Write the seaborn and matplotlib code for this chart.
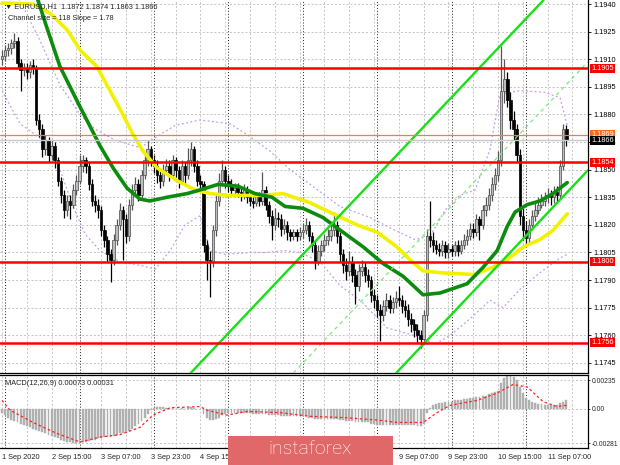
import numpy as np
import pandas as pd
import matplotlib
matplotlib.use("Agg")
import matplotlib.pyplot as plt
import seaborn as sns
from matplotlib.patches import Rectangle
from matplotlib.transforms import blended_transform_factory

# ---------------- data (EURUSD H1) ----------------
opens = [1.1910, 1.1912, 1.1915, 1.1916, 1.1919, 1.1920, 1.1908, 1.1904, 1.1905, 1.1903,
         1.1907, 1.1905, 1.1877, 1.1872, 1.1861, 1.1866, 1.1858, 1.1863, 1.1855, 1.1844,
         1.1836, 1.1828, 1.1833, 1.1831, 1.1839, 1.1844, 1.1852, 1.1855, 1.1852, 1.1842,
         1.1833, 1.1831, 1.1828, 1.1817, 1.1812, 1.1804, 1.1801, 1.1812, 1.1820, 1.1828,
         1.1823, 1.1814, 1.1831, 1.1839, 1.1842, 1.1836, 1.1847, 1.1855, 1.1861, 1.1855,
         1.1852, 1.1847, 1.1844, 1.1850, 1.1852, 1.1847, 1.1855, 1.1850, 1.1844, 1.1852,
         1.1847, 1.1855, 1.1861, 1.1852, 1.1844, 1.1842, 1.1809, 1.1801, 1.1800, 1.1817,
         1.1833, 1.1844, 1.1850, 1.1844, 1.1842, 1.1839, 1.1840, 1.1838, 1.1836, 1.1839,
         1.1835, 1.1833, 1.1832, 1.1836, 1.1833, 1.1839, 1.1831, 1.1825, 1.1820, 1.1824,
         1.1823, 1.1818, 1.1820, 1.1816, 1.1814, 1.1816, 1.1814, 1.1816, 1.1817, 1.1820,
         1.1814, 1.1809, 1.1800, 1.1806, 1.1809, 1.1812, 1.1814, 1.1817, 1.1820, 1.1814,
         1.1804, 1.1798, 1.1795, 1.1800, 1.1793, 1.1787, 1.1795, 1.1797, 1.1793, 1.1790,
         1.1782, 1.1779, 1.1774, 1.1771, 1.1776, 1.1779, 1.1775, 1.1778, 1.1780, 1.1779,
         1.1776, 1.1774, 1.1769, 1.1766, 1.1763, 1.1760, 1.1758, 1.1771, 1.1814, 1.1812,
         1.1809, 1.1807, 1.1806, 1.1809, 1.1805, 1.1807, 1.1806, 1.1809, 1.1806, 1.1809,
         1.1812, 1.1814, 1.1818, 1.1816, 1.1823, 1.1820, 1.1828, 1.1831, 1.1836, 1.1842,
         1.1847, 1.1855, 1.1893, 1.1899, 1.1888, 1.1877, 1.1872, 1.1858, 1.1825, 1.1817,
         1.1813, 1.1820, 1.1825, 1.1828, 1.1831, 1.1833, 1.1835, 1.1836, 1.1835, 1.1838,
         1.1836, 1.1852, 1.1872]
highs = [1.1915, 1.1918, 1.1919, 1.1921, 1.1924, 1.1922, 1.1910, 1.1908, 1.1908, 1.1909,
         1.1910, 1.1907, 1.1880, 1.1875, 1.1869, 1.1868, 1.1866, 1.1865, 1.1857, 1.1846,
         1.1839, 1.1836, 1.1836, 1.1842, 1.1847, 1.1858, 1.1858, 1.1857, 1.1854, 1.1845,
         1.1836, 1.1834, 1.1830, 1.1820, 1.1814, 1.1807, 1.1815, 1.1823, 1.1832, 1.1830,
         1.1826, 1.1834, 1.1842, 1.1846, 1.1845, 1.1850, 1.1858, 1.1866, 1.1863, 1.1858,
         1.1855, 1.1850, 1.1853, 1.1856, 1.1855, 1.1858, 1.1857, 1.1852, 1.1855, 1.1854,
         1.1862, 1.1865, 1.1863, 1.1855, 1.1847, 1.1844, 1.1812, 1.1806, 1.1820, 1.1836,
         1.1848, 1.1855, 1.1852, 1.1847, 1.1845, 1.1843, 1.1843, 1.1840, 1.1842, 1.1841,
         1.1837, 1.1835, 1.1838, 1.1838, 1.1849, 1.1841, 1.1833, 1.1828, 1.1829, 1.1827,
         1.1826, 1.1823, 1.1822, 1.1818, 1.1818, 1.1818, 1.1819, 1.1821, 1.1824, 1.1822,
         1.1816, 1.1811, 1.1809, 1.1812, 1.1815, 1.1818, 1.1820, 1.1827, 1.1822, 1.1816,
         1.1807, 1.1802, 1.1806, 1.1803, 1.1796, 1.1799, 1.1801, 1.1800, 1.1796, 1.1792,
         1.1785, 1.1782, 1.1777, 1.1779, 1.1783, 1.1782, 1.1781, 1.1784, 1.1787, 1.1782,
         1.1779, 1.1777, 1.1772, 1.1769, 1.1766, 1.1763, 1.1774, 1.1818, 1.1833, 1.1816,
         1.1812, 1.1810, 1.1812, 1.1811, 1.1810, 1.1809, 1.1811, 1.1812, 1.1812, 1.1815,
         1.1818, 1.1821, 1.1821, 1.1826, 1.1825, 1.1831, 1.1835, 1.1840, 1.1846, 1.1851,
         1.1860, 1.1917, 1.1910, 1.1903, 1.1892, 1.1882, 1.1875, 1.1861, 1.1829, 1.1822,
         1.1823, 1.1828, 1.1832, 1.1835, 1.1837, 1.1838, 1.1840, 1.1839, 1.1841, 1.1841,
         1.1855, 1.1875, 1.1874]
lows = [1.1907, 1.1909, 1.1912, 1.1913, 1.1916, 1.1905, 1.1893, 1.1901, 1.1899, 1.1900,
        1.1902, 1.1874, 1.1868, 1.1857, 1.1858, 1.1854, 1.1855, 1.1851, 1.1841, 1.1832,
        1.1824, 1.1825, 1.1823, 1.1829, 1.1836, 1.1842, 1.1849, 1.1848, 1.1839, 1.1830,
        1.1827, 1.1824, 1.1814, 1.1808, 1.1800, 1.1789, 1.1798, 1.1809, 1.1817, 1.1801,
        1.1810, 1.1811, 1.1828, 1.1836, 1.1833, 1.1834, 1.1845, 1.1852, 1.1852, 1.1848,
        1.1843, 1.1840, 1.1841, 1.1847, 1.1844, 1.1845, 1.1846, 1.1840, 1.1842, 1.1843,
        1.1845, 1.1852, 1.1849, 1.1841, 1.1838, 1.1805, 1.1790, 1.1781, 1.1797, 1.1814,
        1.1830, 1.1841, 1.1840, 1.1838, 1.1836, 1.1836, 1.1835, 1.1833, 1.1834, 1.1832,
        1.1830, 1.1829, 1.1830, 1.1830, 1.1831, 1.1828, 1.1821, 1.1812, 1.1817, 1.1819,
        1.1814, 1.1815, 1.1812, 1.1811, 1.1812, 1.1811, 1.1812, 1.1813, 1.1815, 1.1811,
        1.1805, 1.1796, 1.1798, 1.1803, 1.1806, 1.1809, 1.1811, 1.1814, 1.1810, 1.1800,
        1.1794, 1.1790, 1.1792, 1.1789, 1.1777, 1.1784, 1.1792, 1.1789, 1.1786, 1.1778,
        1.1775, 1.1770, 1.1757, 1.1768, 1.1773, 1.1772, 1.1772, 1.1775, 1.1776, 1.1772,
        1.1770, 1.1765, 1.1762, 1.1759, 1.1756, 1.1753, 1.1755, 1.1768, 1.1808, 1.1805,
        1.1804, 1.1803, 1.1803, 1.1802, 1.1802, 1.1803, 1.1803, 1.1803, 1.1804, 1.1807,
        1.1809, 1.1812, 1.1813, 1.1814, 1.1812, 1.1818, 1.1825, 1.1828, 1.1833, 1.1839,
        1.1844, 1.1852, 1.1886, 1.1884, 1.1872, 1.1866, 1.1854, 1.1820, 1.1812, 1.1809,
        1.1810, 1.1817, 1.1822, 1.1826, 1.1829, 1.1830, 1.1832, 1.1831, 1.1832, 1.1833,
        1.1834, 1.1850, 1.1863]
closes = [1.1912, 1.1915, 1.1916, 1.1919, 1.1920, 1.1908, 1.1904, 1.1905, 1.1903, 1.1907,
          1.1905, 1.1877, 1.1872, 1.1861, 1.1866, 1.1858, 1.1863, 1.1855, 1.1844, 1.1836,
          1.1828, 1.1833, 1.1831, 1.1839, 1.1844, 1.1852, 1.1855, 1.1852, 1.1842, 1.1833,
          1.1831, 1.1828, 1.1817, 1.1812, 1.1804, 1.1801, 1.1812, 1.1820, 1.1828, 1.1823,
          1.1814, 1.1831, 1.1839, 1.1842, 1.1836, 1.1847, 1.1855, 1.1861, 1.1855, 1.1852,
          1.1847, 1.1844, 1.1850, 1.1852, 1.1847, 1.1855, 1.1850, 1.1844, 1.1852, 1.1847,
          1.1855, 1.1861, 1.1852, 1.1844, 1.1842, 1.1809, 1.1801, 1.1800, 1.1817, 1.1833,
          1.1844, 1.1850, 1.1844, 1.1842, 1.1839, 1.1840, 1.1838, 1.1836, 1.1839, 1.1835,
          1.1833, 1.1832, 1.1836, 1.1833, 1.1839, 1.1831, 1.1825, 1.1820, 1.1824, 1.1823,
          1.1818, 1.1820, 1.1816, 1.1814, 1.1816, 1.1814, 1.1816, 1.1817, 1.1820, 1.1814,
          1.1809, 1.1800, 1.1806, 1.1809, 1.1812, 1.1814, 1.1817, 1.1820, 1.1814, 1.1804,
          1.1798, 1.1795, 1.1800, 1.1793, 1.1787, 1.1795, 1.1797, 1.1793, 1.1790, 1.1782,
          1.1779, 1.1774, 1.1771, 1.1776, 1.1779, 1.1775, 1.1778, 1.1780, 1.1779, 1.1776,
          1.1774, 1.1769, 1.1766, 1.1763, 1.1760, 1.1758, 1.1771, 1.1814, 1.1812, 1.1809,
          1.1807, 1.1806, 1.1809, 1.1805, 1.1807, 1.1806, 1.1809, 1.1806, 1.1809, 1.1812,
          1.1814, 1.1818, 1.1816, 1.1823, 1.1820, 1.1828, 1.1831, 1.1836, 1.1842, 1.1847,
          1.1855, 1.1893, 1.1899, 1.1888, 1.1877, 1.1872, 1.1858, 1.1825, 1.1817, 1.1813,
          1.1820, 1.1825, 1.1828, 1.1831, 1.1833, 1.1835, 1.1836, 1.1835, 1.1838, 1.1836,
          1.1852, 1.1872, 1.1866]

# moving averages sampled along the drawn curves (bar index, price)
ma_green_idx = [10.0, 11.6, 14.5, 18.7, 25.2, 31.6, 35.8, 40.3, 44.5, 47.7, 53.2, 59.7,
                63.9, 69.7, 76.1, 81.6, 87.1, 91.3, 97.1, 103.5, 110.0, 116.5, 122.9,
                129.4, 135.8, 141.3, 150.0, 155.2, 159.7, 162.9, 165.5, 169.4, 173.5,
                177.7, 182.3]
ma_green_val = [1.1948, 1.1942, 1.1927, 1.1906, 1.1884, 1.1863, 1.1851, 1.1840, 1.1834,
                1.1833, 1.1835, 1.1837, 1.1839, 1.1842, 1.1841, 1.1837, 1.1835, 1.1830,
                1.1829, 1.1824, 1.1816, 1.1808, 1.1799, 1.1792, 1.1782, 1.1783, 1.1788,
                1.1797, 1.1806, 1.1819, 1.1827, 1.1831, 1.1833, 1.1837, 1.1843]
ma_yellow_idx = [0.0, 10.0, 15.5, 21.0, 25.2, 30.6, 34.8, 39.0, 42.3, 45.5, 50.0, 56.5,
                 62.3, 67.1, 72.9, 83.9, 90.6, 99.4, 106.8, 114.5, 121.0, 127.4, 131.6,
                 135.8, 141.3, 152.0, 158.4, 162.9, 168.1, 173.5, 177.7, 182.3]
ma_yellow_val = [1.19405, 1.19400, 1.1935, 1.1926, 1.1915, 1.1906, 1.1893, 1.1880, 1.1869,
                 1.1860, 1.1851, 1.1844, 1.1839, 1.1837, 1.1836, 1.1836, 1.1837, 1.1832,
                 1.1826, 1.1820, 1.1816, 1.1808, 1.1801, 1.1795, 1.1794, 1.1793, 1.1797,
                 1.1801, 1.1808, 1.1812, 1.1817, 1.1826]

# envelope bands (purple dotted)
band_up_idx = [0.0, 5.8, 12.3, 18.7, 25.2, 30.0, 36.5, 44.5, 51.0, 55.8, 63.9, 73.5,
               80.0, 86.5, 92.9, 99.4, 109.0, 118.7, 126.8, 133.2, 138.1, 142.9, 147.7,
               152.6, 157.4, 160.6, 167.1, 175.2, 180.0, 182.3]
band_up_val = [1.1953, 1.1942, 1.1920, 1.1896, 1.1880, 1.1872, 1.1866, 1.1862, 1.1869,
               1.1874, 1.1877, 1.1875, 1.1868, 1.1860, 1.1850, 1.1842, 1.1830, 1.1824,
               1.1817, 1.1812, 1.1814, 1.1828, 1.1836, 1.1839, 1.1861, 1.1891, 1.1893,
               1.1892, 1.1889, 1.1874]
band_lo_idx = [0.0, 5.8, 13.2, 18.7, 22.9, 26.8, 31.6, 38.0, 44.5, 49.4, 54.2, 59.0,
               63.9, 67.1, 72.0, 80.0, 84.8, 91.3, 96.1, 102.6, 109.0, 115.5, 124.2,
               134.8, 139.7, 144.5, 151.0, 157.4, 161.6, 167.1, 173.5, 180.0, 182.3]
band_lo_val = [1.1893, 1.1875, 1.1866, 1.1850, 1.1830, 1.1815, 1.1806, 1.1800, 1.1798,
               1.1796, 1.1806, 1.1820, 1.1825, 1.1806, 1.1804, 1.1805, 1.1805, 1.1806,
               1.1805, 1.1800, 1.1787, 1.1779, 1.1764, 1.1759, 1.1755, 1.1760, 1.1769,
               1.1779, 1.1775, 1.1785, 1.1794, 1.1802, 1.1804]

# regression channel: lower line anchors, width from "Channel size = 118"
chan_lower_a = (127.4, 1.1740)
chan_lower_b = (189.0, 1.18497)
chan_size = 0.0118

red_levels = [1.1905, 1.1854, 1.1800, 1.1756]
orange_level = 1.1869
last_price = 1.1866

price_ticks = [1.1745, 1.1760, 1.1775, 1.1790, 1.1805, 1.1820, 1.1835, 1.1850,
               1.1865, 1.1880, 1.1895, 1.1910, 1.1925, 1.1940]

macd_main = [-0.0003, -0.0005, -0.0007, -0.0009, -0.0010, -0.0011, -0.0012, -0.0013, -0.0014, -0.0015,
             -0.0016, -0.0017, -0.0018, -0.0019, -0.0020, -0.0021, -0.0022, -0.0023, -0.0024, -0.0025,
             -0.0026, -0.0027, -0.0027, -0.0028, -0.0028, -0.0028, -0.0027, -0.0027, -0.0026, -0.0025,
             -0.0025, -0.0024, -0.0024, -0.0023, -0.0023, -0.0023, -0.0022, -0.0021, -0.0020, -0.0020,
             -0.0019, -0.0018, -0.0016, -0.0014, -0.0012, -0.0010, -0.0007, -0.0004, -0.0001, 0.0001,
             0.0002, 0.0002, 0.0002, 0.0001, 0.0001, 0.0001, 0.0000, 0.0000, 0.0001, 0.0000,
             0.0001, 0.0002, 0.0001, 0.0000, 0.0000, -0.0004, -0.0007, -0.0009, -0.0009, -0.0008,
             -0.0007, -0.0005, -0.0004, -0.0003, -0.0003, -0.0003, -0.0003, -0.0003, -0.0003, -0.0003,
             -0.0003, -0.0004, -0.0004, -0.0004, -0.0004, -0.0004, -0.0005, -0.0005, -0.0005, -0.0005,
             -0.0006, -0.0006, -0.0006, -0.0006, -0.0006, -0.0006, -0.0006, -0.0006, -0.0006, -0.0007,
             -0.0007, -0.0008, -0.0008, -0.0008, -0.0008, -0.0008, -0.0008, -0.0008, -0.0008, -0.0009,
             -0.0009, -0.0010, -0.0010, -0.0010, -0.0011, -0.0011, -0.0011, -0.0011, -0.0011, -0.0012,
             -0.0012, -0.0013, -0.0013, -0.0013, -0.0013, -0.0013, -0.0013, -0.0013, -0.0013, -0.0013,
             -0.0013, -0.0013, -0.0013, -0.0013, -0.0014, -0.0014, -0.0012, -0.0003, 0.0001, 0.0003,
             0.0004, 0.0005, 0.0005, 0.0006, 0.0006, 0.0006, 0.0007, 0.0007, 0.0007, 0.0008,
             0.0008, 0.0009, 0.0009, 0.0010, 0.0010, 0.0011, 0.0011, 0.0012, 0.0013, 0.0014,
             0.0015, 0.0021, 0.0025, 0.0027, 0.0027, 0.0026, 0.0024, 0.0018, 0.0013, 0.0009,
             0.0007, 0.0006, 0.0005, 0.0004, 0.0004, 0.0003, 0.0003, 0.0003, 0.0003, 0.0003,
             0.0005, 0.0006, 0.00073]
signal_idx = [0.0, 2.6, 10.0, 17.7, 25.2, 31.6, 38.0, 44.5, 48.7, 54.2, 63.9, 66.1, 72.6,
              79.0, 89.7, 99.4, 110.0, 121.0, 127.4, 135.8, 140.3, 144.5, 153.2, 159.7,
              164.8, 169.4, 174.5, 179.0, 182.3]
signal_val = [0.0007, -0.0001, -0.0011, -0.0020, -0.0027, -0.0023, -0.0021, -0.0015,
              -0.0005, 0.0001, 0.0002, -0.0001, -0.0005, -0.0002, -0.0003, -0.0006,
              -0.0007, -0.0009, -0.0011, -0.0011, -0.0003, 0.0003, 0.0007, 0.0013,
              0.0020, 0.0018, 0.0006, 0.0002, 0.00031]
macd_ticks = [0.00235, 0.0, -0.00281]
macd_tick_labels = ["0.00235", "0.00", "-0.00281"]

# labels covered by the watermark in the reference are left empty
time_label_idx = [0, 16, 32, 48, 64, 80, 96, 112, 128, 144, 160, 176]
time_labels = ["1 Sep 2020", "2 Sep 15:00", "3 Sep 07:00", "3 Sep 23:00", "4 Sep 15:00",
               "", "", "", "9 Sep 07:00", "9 Sep 23:00", "10 Sep 15:00", "11 Sep 07:00"]
day_sep_idx = [1, 25, 49, 73, 97, 121, 145, 169]

# ---------------- style ----------------
sns.set_style("white")
plt.rcParams['font.family'] = ['Liberation Sans', 'DejaVu Sans']
plt.rcParams['font.size'] = 5.3

W, H = 620, 465
fig = plt.figure(figsize=(W / 100, H / 100), dpi=100)
fig.patch.set_facecolor('white')
ax = fig.add_axes([0, 92 / H, 588 / W, 373 / H])
axm = fig.add_axes([0, 17 / H, 588 / W, 73 / H])

XL = (-0.65, 189.0)
for a in (ax, axm):
    a.set_xlim(*XL)
    a.set_facecolor('white')
ax.set_ylim(1.17395, 1.19422)
axm.set_ylim(-0.00319, 0.00278)

GRID = '#c4c4c4'
for a in (ax, axm):
    for gx in range(0, 190, 8):
        a.axvline(gx, color=GRID, lw=0.7, ls=(0, (2, 2)), zorder=0.5)
    for dx in day_sep_idx:
        a.axvline(dx, color='#202020', lw=0.7, ls=(0, (1, 2)), zorder=0.6)
for pt in price_ticks:
    ax.axhline(pt, color=GRID, lw=0.7, ls=(0, (2, 2)), zorder=0.5)
for mt in macd_ticks:
    axm.axhline(mt, color=GRID, lw=0.7, ls=(0, (2, 2)), zorder=0.5)

# bands
sns.lineplot(x=band_up_idx, y=band_up_val, ax=ax, color='#c49ce8', linewidth=0.9,
             linestyle=(0, (1.5, 2)), zorder=1)
sns.lineplot(x=band_lo_idx, y=band_lo_val, ax=ax, color='#c49ce8', linewidth=0.9,
             linestyle=(0, (1.5, 2)), zorder=1)

# candles
df = pd.DataFrame({'o': opens, 'h': highs, 'l': lows, 'c': closes})
df['i'] = np.arange(len(df))
bull = df[df.c >= df.o]
bear = df[df.c < df.o]
ax.vlines(bull.i, bull.l, bull.h, color='#555555', lw=0.9, zorder=2)
ax.vlines(bear.i, bear.l, bear.h, color='#000000', lw=0.9, zorder=2)
for sub, fc, ec in ((bull, '#bdbdbd', '#4a4a4a'), (bear, '#000000', '#000000')):
    lo = np.minimum(sub.o, sub.c)
    hh = np.maximum((sub.c - sub.o).abs(), 0.00004)
    ax.bar(sub.i, hh, bottom=lo, width=0.8, color=fc, edgecolor=ec,
           linewidth=0.5, zorder=2.1)

# moving averages
sns.lineplot(x=ma_yellow_idx, y=ma_yellow_val, ax=ax, color='#f2f200', linewidth=2.6, zorder=3)
sns.lineplot(x=ma_green_idx, y=ma_green_val, ax=ax, color='#0c8c0c', linewidth=2.6, zorder=3.1)

# channel
la, lb = chan_lower_a, chan_lower_b
ax.axline(la, lb, color='#16e016', lw=1.7, zorder=3.5)
ax.axline((la[0], la[1] + chan_size), (lb[0], lb[1] + chan_size), color='#16e016', lw=1.7, zorder=3.5)
ax.axline((la[0], la[1] + chan_size / 2), (lb[0], lb[1] + chan_size / 2), color='#7aea7a',
          lw=0.9, ls=(0, (3, 3)), zorder=3.4)

# horizontal levels
ax.axhline(last_price, color='#c8c8c8', lw=1.0, zorder=3.6)
ax.axhline(orange_level, color='#ff7a2a', lw=0.9, zorder=3.7)
for lv in red_levels:
    ax.axhline(lv, color='#ff0000', lw=1.8, zorder=4)

# right price axis
ax.yaxis.tick_right()
ax.set_yticks(price_ticks)
ax.set_yticklabels([f"{p:.4f}" for p in price_ticks])
ax.tick_params(axis='y', length=2.5, width=0.6, pad=1.5, labelsize=5.3, colors='black')
ax.set_xticks([])
ax.set_xlabel('')
ax.set_ylabel('')

bt = blended_transform_factory(ax.transAxes, ax.transData)
def price_box(v, fc, tc='white'):
    ax.text(1.005, v, f"{v:.4f}", transform=bt, color=tc, fontsize=5.3, ha='left', va='center',
            bbox=dict(boxstyle='square,pad=0.15', fc=fc, ec='none'), clip_on=False, zorder=12)
for lv in red_levels:
    price_box(lv, '#ff0000')
price_box(orange_level, '#ff6a1a')
price_box(last_price, '#000000')

for s in ('left', 'top'):
    ax.spines[s].set_visible(False)
for s in ('right', 'bottom'):
    ax.spines[s].set_color('black')
    ax.spines[s].set_linewidth(0.9)

ax.text(5 / 588, 1 - 7 / 373, "\u25bc EURUSD,H1  1.1872 1.1874 1.1863 1.1866",
        transform=ax.transAxes, fontsize=5.3, ha='left', va='center', zorder=15)
ax.text(8 / 588, 1 - 19 / 373, "Channel size = 118 Slope = 1.78",
        transform=ax.transAxes, fontsize=5.3, ha='left', va='center', zorder=15)

# MACD panel
axm.bar(np.arange(len(macd_main)), macd_main, width=0.6, color='#b0b0b0',
        edgecolor='#b0b0b0', linewidth=0.3, zorder=2)
sns.lineplot(x=signal_idx, y=signal_val, ax=axm, color='#ff2020', linewidth=0.9,
             linestyle=(0, (2, 2)), zorder=3)
axm.yaxis.tick_right()
axm.set_yticks(macd_ticks)
axm.set_yticklabels(macd_tick_labels)
axm.tick_params(axis='y', length=1.5, width=0.6, pad=1, labelsize=4.9)
axm.set_xticks(time_label_idx)
axm.set_xticklabels(time_labels, ha='left')
axm.tick_params(axis='x', length=3, width=0.6, pad=1.5, labelsize=5.3)
axm.set_xlabel('')
axm.set_ylabel('')
axm.spines['left'].set_visible(False)
for s in ('right', 'bottom', 'top'):
    axm.spines[s].set_color('black')
    axm.spines[s].set_linewidth(0.9)
axm.text(5 / 588, 1 - 8 / 73, "MACD(12,26,9) 0.00073 0.00031", transform=axm.transAxes,
         fontsize=5.3, ha='left', va='center', zorder=15)

# watermark
fig.add_artist(Rectangle((228 / W, 0), 165 / W, 29 / H, transform=fig.transFigure,
                         facecolor='#e06868', edgecolor='none', zorder=20))
fig.text(310 / W, 16 / H, "instaforex", color='white', fontsize=14, ha='center', va='center',
         family=['Roboto', 'DejaVu Sans'], fontweight='light', zorder=21)

fig.savefig('out.png', dpi=100)
